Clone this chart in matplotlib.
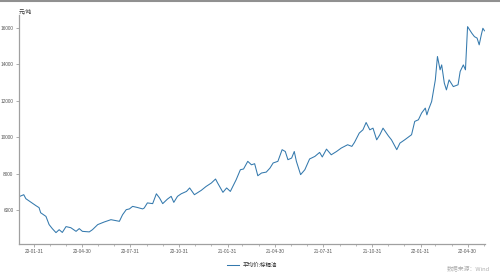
import matplotlib
matplotlib.use("Agg")
import matplotlib.pyplot as plt
import pandas as pd

plt.rcParams['font.family'] = ['Noto Sans CJK SC', 'DejaVu Sans']

# 平均价:棕榈油 (元/吨)
dates = [
    "2020-01-02", "2020-01-11", "2020-01-15", "2020-01-25", "2020-02-03", "2020-02-09",
    "2020-02-12", "2020-02-22", "2020-02-28", "2020-03-05", "2020-03-12", "2020-03-18",
    "2020-03-24", "2020-03-31", "2020-04-09", "2020-04-19", "2020-04-25", "2020-05-01",
    "2020-05-14", "2020-05-20", "2020-05-30", "2020-06-11", "2020-06-24", "2020-07-03",
    "2020-07-10", "2020-07-16", "2020-07-23", "2020-07-29", "2020-08-04", "2020-08-13",
    "2020-08-23", "2020-08-26", "2020-09-01", "2020-09-11", "2020-09-18", "2020-09-24",
    "2020-09-30", "2020-10-09", "2020-10-16", "2020-10-21", "2020-10-28", "2020-11-04",
    "2020-11-14", "2020-11-20", "2020-11-29", "2020-12-12", "2020-12-21", "2020-12-31",
    "2021-01-08", "2021-01-12", "2021-01-22", "2021-01-29", "2021-02-05", "2021-02-16",
    "2021-02-24", "2021-03-02", "2021-03-10", "2021-03-17", "2021-03-23", "2021-03-29",
    "2021-04-05", "2021-04-14", "2021-04-21", "2021-04-27", "2021-05-06", "2021-05-14",
    "2021-05-20", "2021-05-25", "2021-06-01", "2021-06-06", "2021-06-10", "2021-06-18",
    "2021-06-26", "2021-07-05", "2021-07-15", "2021-07-24", "2021-07-29", "2021-08-06",
    "2021-08-15", "2021-08-25", "2021-09-03", "2021-09-09", "2021-09-15", "2021-09-23",
    "2021-09-28", "2021-10-07", "2021-10-14", "2021-10-20", "2021-10-27", "2021-11-02",
    "2021-11-09", "2021-11-15", "2021-11-21", "2021-12-01", "2021-12-07", "2021-12-17",
    "2021-12-23", "2022-01-01", "2022-01-14", "2022-01-20", "2022-01-27", "2022-02-02",
    "2022-02-09", "2022-02-12", "2022-02-15", "2022-02-21", "2022-02-28", "2022-03-04",
    "2022-03-09", "2022-03-12", "2022-03-17", "2022-03-21", "2022-03-26", "2022-04-03",
    "2022-04-12", "2022-04-16", "2022-04-22", "2022-04-26", "2022-04-30", "2022-05-08",
    "2022-05-13", "2022-05-18", "2022-05-22", "2022-05-26", "2022-05-29", "2022-06-01",
]
prices = [
    6740, 6850, 6630, 6430, 6250, 6140,
    5860, 5660, 5210, 4990, 4770, 4930,
    4780, 5100, 5040, 4840, 4990, 4840,
    4810, 4930, 5210, 5350, 5480, 5430,
    5390, 5750, 6030, 6070, 6210, 6150,
    6070, 6120, 6400, 6360, 6900, 6670,
    6360, 6610, 6760, 6430, 6760, 6900,
    7030, 7220, 6850, 7090, 7300, 7490,
    7710, 7490, 6980, 7220, 7030, 7670,
    8220, 8260, 8680, 8490, 8550, 7890,
    8040, 8090, 8310, 8590, 8680, 9320,
    9220, 8770, 8860, 9220, 8680, 7950,
    8220, 8810, 8950, 9170, 8920, 9350,
    9040, 9220, 9410, 9500, 9590, 9500,
    9720, 10230, 10410, 10810, 10410, 10500,
    9860, 10140, 10500, 10080, 9860, 9320,
    9680, 9860, 10140, 10870, 10960, 11330,
    11600, 11230, 11510, 11960, 13150, 14430,
    13700, 13970, 12970, 12600, 13150, 12780,
    12880, 13610, 13970, 13700, 16070, 15710,
    15520, 15440, 15070, 15620, 15980, 15840,
]

major_dates = ["2020-01-31", "2020-04-30", "2020-07-31", "2020-10-31", "2021-01-31",
               "2021-04-30", "2021-07-31", "2021-10-31", "2022-01-31", "2022-04-30"]
y_ticks = [6000, 8000, 10000, 12000, 14000, 16000]

dates = pd.to_datetime(dates)
major = pd.to_datetime(major_dates)
minor = pd.date_range("2020-01-31", "2022-05-31", freq="ME")

fig = plt.figure(figsize=(5, 2.75), dpi=100)
ax = fig.add_axes([0.038, 0.113, 0.932, 0.832])

ax.plot(dates, prices, color="#3479ad", linewidth=0.75, label="平均价:棕榈油")

ax.set_xlim(dates[0], pd.Timestamp("2022-06-02"))
ax.set_ylim(4150, 16700)
ax.set_xticks(major)
ax.set_xticklabels([d.strftime("%y-%m-%d") for d in major])
ax.set_xticks(minor, minor=True)
ax.set_yticks(y_ticks)

for lbl in ax.get_xticklabels() + ax.get_yticklabels():
    lbl.set_family("Liberation Sans")

for s in ["top", "right"]:
    ax.spines[s].set_visible(False)
for s in ["left", "bottom"]:
    ax.spines[s].set_color("#a0a0a0")
    ax.spines[s].set_linewidth(0.9)

ax.tick_params(axis="both", which="major", labelsize=3.4, labelcolor="#555555",
               color="#a0a0a0", length=2.5, width=0.6, pad=1.5)
ax.tick_params(axis="x", which="minor", length=1.5, width=0.5, color="#a0a0a0")

ax.text(0.0, 1.0, "元/吨", transform=ax.transAxes, fontsize=4, color="#333333",
        ha="left", va="bottom")

ax.legend(loc="upper center", bbox_to_anchor=(0.5, -0.06), frameon=False,
          fontsize=4, handlelength=2.2, handletextpad=0.5, labelcolor="#333333")

fig.text(0.98, 0.015, "数据来源：Wind", fontsize=4.2, color="#b0b0b0", ha="right", va="bottom")
fig.add_artist(plt.Line2D([0, 1], [0.997, 0.997], transform=fig.transFigure,
                          color="#909090", linewidth=1.5))

fig.savefig("out.png", dpi=100)
